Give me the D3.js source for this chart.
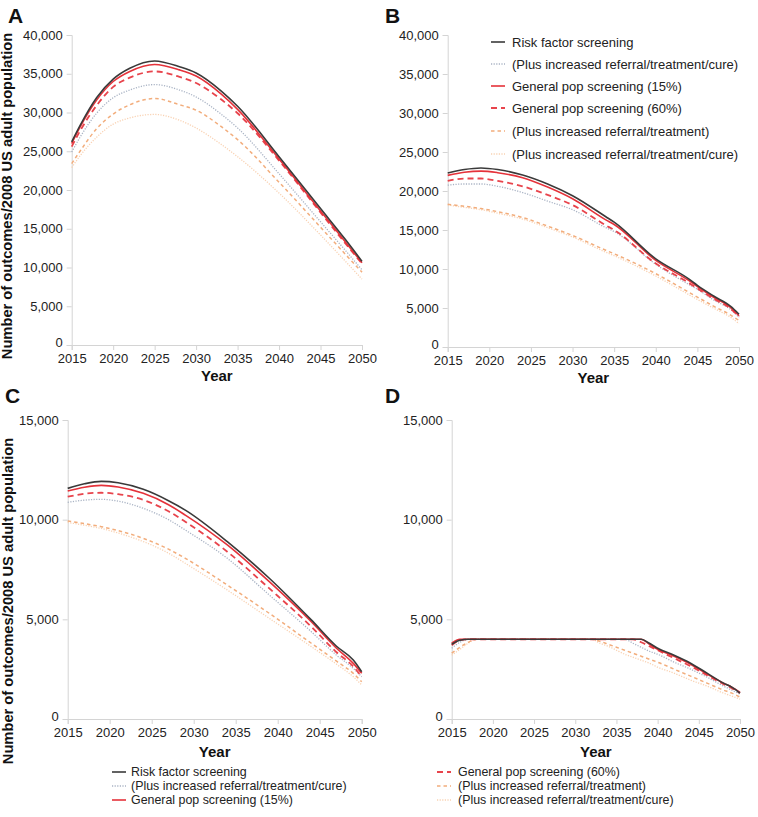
<!DOCTYPE html>
<html><head><meta charset="utf-8">
<script src="https://cdn.jsdelivr.net/npm/d3@7"></script>
<style>body{margin:0;background:#fff}svg{display:block}text{font-family:"Liberation Sans",Arial,sans-serif}</style>
</head><body><svg id="c" width="758" height="817"></svg>
<script>
// ---------- data ----------
const seriesNames = ["Risk factor screening","(Plus increased referral/treatment/cure)","General pop screening (15%)","General pop screening (60%)","(Plus increased referral/treatment)","(Plus increased referral/treatment/cure)"];
const xTicks = [2015,2020,2025,2030,2035,2040,2045,2050];

const yearsA = [2015,2016,2018,2020,2022,2025,2028,2030,2033,2035,2040,2045,2048,2050];
const aRisk     = [26200,28300,31900,34300,35700,36650,35900,35100,32800,30800,24300,17600,13600,10800];
const aRiskCure = [24900,26800,29900,31900,32900,33600,32900,32000,29800,28000,22100,15900,12200,9700];
const aGen15    = [26000,28100,31600,34000,35300,36200,35500,34700,32400,30400,24000,17300,13300,10600];
const aGen60    = [25600,27600,30900,33300,34500,35300,34600,33800,31700,29900,23800,17100,13100,10500];
const aGen60Ref = [23400,25000,27900,29800,31000,31800,31000,30300,28200,26500,21000,15200,11700,9400];
const aGen60Cure= [22900,24400,26800,28500,29300,29750,29000,28000,25900,24300,19600,14200,10800,8500];

const yearsB = [2015,2017,2019,2021,2024,2027,2030,2034,2035,2040,2044,2045,2047,2049,2050];
const bRisk     = [22300,22750,22950,22750,22050,20900,19400,16700,16000,11300,8700,7900,6500,5200,4200];
const bRiskCure = [20750,20900,20900,20600,19800,18700,17600,15300,14800,10600,8000,7400,6000,4800,3800];
const bGen15    = [22000,22400,22550,22350,21700,20500,19000,16300,15700,11100,8500,7750,6350,5050,4000];
const bGen60    = [21300,21600,21600,21300,20600,19500,18200,15600,15000,10700,8200,7500,6150,4900,3900];
const bGen60Ref = [18300,18050,17750,17350,16600,15500,14300,12400,11950,9400,7000,6400,5200,4100,3400];
const bGen60Cure= [18200,17900,17600,17150,16400,15300,14100,12150,11700,9100,6700,6100,4950,3800,3000];

const yearsC = [2015,2017,2019,2021,2024,2027,2029,2034,2039,2044,2047,2049,2050];
const cRisk     = [11570,11800,11920,11850,11520,10950,10480,8900,7060,4970,3650,2960,2370];
const cRiskCure = [10870,10980,11020,10930,10570,10000,9480,8060,6220,4380,3200,2540,2120];
const cGen15    = [11440,11630,11720,11640,11320,10750,10230,8730,6890,4880,3550,2790,2290];
const cGen60    = [11150,11300,11350,11280,10990,10420,9900,8390,6550,4630,3350,2630,2120];
const cGen60Ref = [9930,9800,9650,9450,9060,8520,8060,6720,5300,3800,2900,2290,1870];
const cGen60Cure= [9860,9720,9560,9330,8900,8320,7810,6470,5050,3630,2750,2120,1710];

const yearsD = [2015,2016,2017,2018,2032,2033,2034,2035,2036,2037,2038,2039,2040,2042,2044,2046,2048,2049,2050];
const dRisk     = [3750,3950,4000,4000,4000,4000,4000,4000,4000,4000,4000,3800,3550,3200,2800,2300,1800,1600,1300];
const dRiskCure = [3550,3850,4000,4000,4000,4000,4000,4000,4000,3800,3600,3400,3250,2850,2500,2100,1650,1450,1250];
const dGen15    = [3800,4000,4000,4000,4000,4000,4000,4000,4000,4000,4000,3750,3500,3150,2750,2250,1800,1600,1350];
const dGen60    = [3700,3950,4000,4000,4000,4000,4000,4000,4000,4000,3850,3650,3450,3050,2650,2200,1750,1550,1300];
const dGen60Ref = [3300,3600,3850,4000,4000,3900,3750,3600,3450,3300,3150,3000,2850,2500,2150,1800,1450,1300,1100];
const dGen60Cure= [3200,3500,3800,4000,4000,3800,3650,3450,3250,3100,2950,2800,2600,2300,1950,1650,1300,1150,1000];

// ---------- styles ----------
const styles = [
  {color:"#3a3a3a", width:1.6, dash:null},
  {color:"#a9b3c4", width:1.3, dash:"1.2,1.4"},
  {color:"#e5323a", width:1.6, dash:null},
  {color:"#e8444c", width:1.8, dash:"6,4"},
  {color:"#f2ad7c", width:1.5, dash:"3.5,3"},
  {color:"#f9d2b3", width:1.3, dash:"1.2,1.4"}
];
const drawOrder = [5,4,1,3,2,0];

const svg = d3.select("#c");
const fmt = d3.format(",");

function panel(cfg){
  const x = d3.scaleLinear().domain([2015,2050]).range([cfg.x0,cfg.x1]);
  const y = d3.scaleLinear().domain([0,cfg.yMax]).range([cfg.y0,cfg.y1]);
  const g = svg.append("g");
  const ya = g.append("g").attr("transform",`translate(${cfg.x0},0)`)
    .call(d3.axisLeft(y).tickValues(d3.range(0,cfg.yMax+1,cfg.yStep)).tickFormat(fmt).tickSizeOuter(0).tickSize(5).tickPadding(4));
  const xa = g.append("g").attr("transform",`translate(0,${cfg.y0})`)
    .call(d3.axisBottom(x).tickValues(xTicks).tickFormat(d3.format("d")).tickSizeOuter(0).tickSize(5).tickPadding(4));
  [ya,xa].forEach(a=>{
    a.select(".domain").attr("stroke","#d4d4d4").attr("stroke-width",1);
    a.selectAll(".tick line").attr("stroke","#d4d4d4");
    a.selectAll(".tick text").attr("fill","#222").style("font-size","13px");
  });
  // nudge the bottom "0" label up slightly so it clears the first year label
  ya.selectAll(".tick text").filter(d=>d===0).attr("dy","0.1em");
  const line = d3.line().x(d=>x(d[0])).y(d=>y(d[1])).curve(d3.curveMonotoneX);
  drawOrder.forEach(i=>{
    const vals = cfg.series[i];
    const pts = cfg.years.map((yr,k)=>[yr,vals[k]]);
    const st = styles[i];
    g.append("path").datum(pts).attr("d",line).attr("fill","none")
      .attr("stroke",st.color).attr("stroke-width",st.width)
      .attr("stroke-dasharray",st.dash).attr("stroke-linejoin","round");
  });
  g.append("text").attr("x",(cfg.x0+cfg.x1)/2).attr("y",cfg.yearY).attr("text-anchor","middle")
    .style("font-size","15px").style("font-weight","bold").attr("fill","#111").text("Year");
  g.append("text").attr("x",cfg.lx).attr("y",cfg.ly).style("font-size","21px").style("font-weight","bold").attr("fill","#111").text(cfg.letter);
}

panel({letter:"A",lx:8,ly:23,x0:71.7,x1:362,y0:345,y1:35,yMax:40000,yStep:5000,yearY:381,years:yearsA,
  series:[aRisk,aRiskCure,aGen15,aGen60,aGen60Ref,aGen60Cure]});
panel({letter:"B",lx:385,ly:23,x0:447.7,x1:739,y0:347,y1:35,yMax:40000,yStep:5000,yearY:383,years:yearsB,
  series:[bRisk,bRiskCure,bGen15,bGen60,bGen60Ref,bGen60Cure]});
panel({letter:"C",lx:5,ly:403,x0:67.7,x1:361.7,y0:719,y1:420,yMax:15000,yStep:5000,yearY:757,years:yearsC,
  series:[cRisk,cRiskCure,cGen15,cGen60,cGen60Ref,cGen60Cure]});
panel({letter:"D",lx:385,ly:403,x0:451.7,x1:740,y0:719,y1:420,yMax:15000,yStep:5000,yearY:757,years:yearsD,
  series:[dRisk,dRiskCure,dGen15,dGen60,dGen60Ref,dGen60Cure]});

[[7,196],[8,601]].forEach(([cx,cy])=>{
  svg.append("text").attr("transform",`translate(${cx+5},${cy}) rotate(-90)`).attr("text-anchor","middle")
    .style("font-size","14.7px").style("font-weight","bold").attr("fill","#111")
    .text("Number of outcomes/2008 US adult population");
});

function legend(idx, lx, tx, ys, fs){
  idx.forEach((i,k)=>{
    const st = styles[i];
    svg.append("line").attr("x1",lx).attr("x2",lx+14).attr("y1",ys[k]).attr("y2",ys[k])
      .attr("stroke",st.color).attr("stroke-width",st.width).attr("stroke-dasharray",st.dash);
    svg.append("text").attr("x",tx).attr("y",ys[k]).attr("dy","0.35em").style("font-size",fs)
      .attr("fill","#222").text(seriesNames[i]);
  });
}
legend([0,1,2,3,4,5],491,512,[42,64,86,108,131,154],"13px");
legend([0,1,2],112,131,[772,786,800],"12.4px");
legend([3,4,5],437,458,[772,786,800],"12.4px");
</script></body></html>
